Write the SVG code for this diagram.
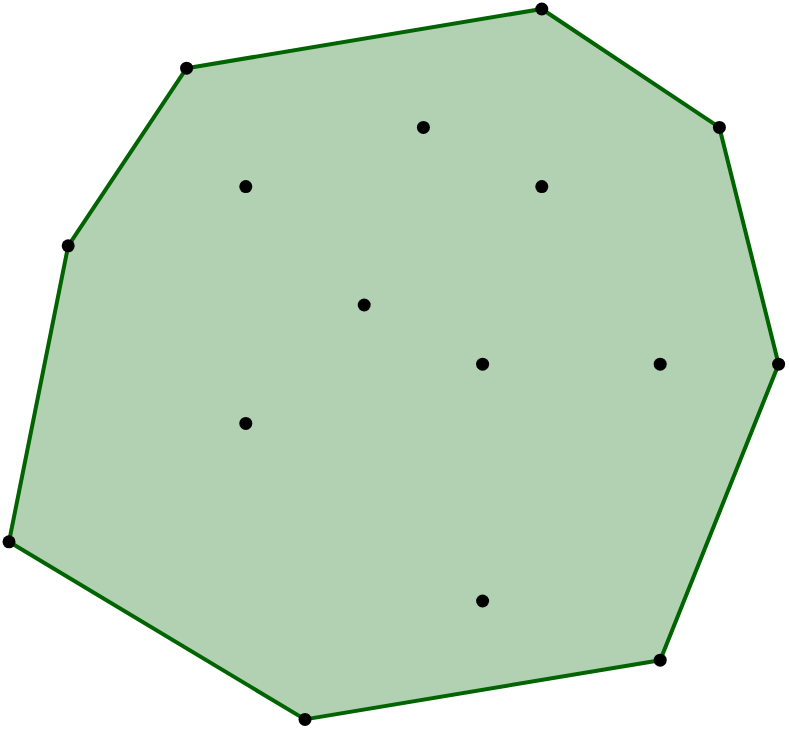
<svg xmlns="http://www.w3.org/2000/svg" width="789" height="730" viewBox="0 0 789 730">
<style>
.hull{fill:#006400;fill-opacity:0.3;stroke:#006400;stroke-width:4;stroke-linejoin:round}
.pt{fill:#000}
</style>
<rect width="789" height="730" fill="#fff"/>
<g id="hull">
<polygon class="hull" points="541.8,9 719.4,127.4 778.6,364.2 660.2,660.2 305,719.4 9,541.8 68.2,245.8 186.6,68.2"/>
</g>
<g id="points">
<circle class="pt" cx="541.8" cy="9" r="6.5"/>
<circle class="pt" cx="719.4" cy="127.4" r="6.5"/>
<circle class="pt" cx="778.6" cy="364.2" r="6.5"/>
<circle class="pt" cx="660.2" cy="660.2" r="6.5"/>
<circle class="pt" cx="305" cy="719.4" r="6.5"/>
<circle class="pt" cx="9" cy="541.8" r="6.5"/>
<circle class="pt" cx="68.2" cy="245.8" r="6.5"/>
<circle class="pt" cx="186.6" cy="68.2" r="6.5"/>
<circle class="pt" cx="423.4" cy="127.4" r="6.5"/>
<circle class="pt" cx="245.8" cy="186.6" r="6.5"/>
<circle class="pt" cx="541.8" cy="186.6" r="6.5"/>
<circle class="pt" cx="364.2" cy="305" r="6.5"/>
<circle class="pt" cx="482.6" cy="364.2" r="6.5"/>
<circle class="pt" cx="660.2" cy="364.2" r="6.5"/>
<circle class="pt" cx="245.8" cy="423.4" r="6.5"/>
<circle class="pt" cx="482.6" cy="601" r="6.5"/>
</g>
</svg>
